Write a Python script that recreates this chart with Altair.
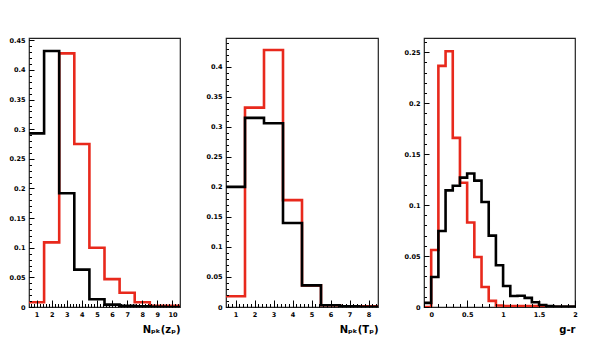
import altair as alt
import pandas as pd

FONT = "DejaVu Sans"
RED = "#e8291c"
BLACK = "#000000"

# ---------------- data ----------------
# panel 1 : N_pk(z_p), bins of width 1
p1_lo = [0.5, 1.5, 2.5, 3.5, 4.5, 5.5, 6.5, 7.5, 8.5, 9.5]
p1_black = [0.293, 0.432, 0.192, 0.063, 0.013, 0.004, 0.002, 0.001, 0.0005, 0.0]
p1_red = [0.008, 0.109, 0.428, 0.275, 0.100, 0.047, 0.024, 0.008, 0.002, 0.002]

# panel 2 : N_pk(T_p), bins of width 1
p2_lo = [0.5, 1.5, 2.5, 3.5, 4.5, 5.5, 6.5, 7.5]
p2_black = [0.200, 0.315, 0.306, 0.140, 0.036, 0.003, 0.001, 0.0005]
p2_red = [0.018, 0.332, 0.428, 0.178, 0.036, 0.003, 0.001, 0.001]

# panel 3 : g-r, bins of width 0.1
p3_lo = [-0.1, 0.0, 0.1, 0.2, 0.3, 0.4, 0.5, 0.6, 0.7, 0.8, 0.9,
         1.0, 1.1, 1.2, 1.3, 1.4, 1.5, 1.6, 1.7, 1.8, 1.9]
p3_black = [0.004, 0.0295, 0.0746, 0.1145, 0.119, 0.127, 0.131, 0.124, 0.103, 0.070, 0.041,
            0.0206, 0.0108, 0.011, 0.009, 0.0046, 0.002, 0.001, 0.0005, 0.0005, 0.0005]
p3_red = [0.0, 0.056, 0.2366, 0.251, 0.166, 0.122, 0.083, 0.049, 0.0196, 0.006, 0.0015,
          0.001, 0.001, 0.001, 0.001, 0.001, 0.0005, 0.0, 0.0, 0.0, 0.0]

titles = ["Nₚₖ(zₚ)", "Nₚₖ(Tₚ)", "g-r"]


def step_df(lows, width, vals):
    xs = list(lows) + [lows[-1] + width]
    ys = list(vals) + [vals[-1]]
    return pd.DataFrame({"x": xs, "y": ys})


def frange(a, b, step):
    n = int(round((b - a) / step))
    return [round(a + i * step, 6) for i in range(n + 1)]


H = 269


def panel(lows, width, black, red, xdom, ydom, xlabels, xminor, ylabels, yminor, title, W):
    xs = alt.Scale(domain=xdom, nice=False, zero=False)
    ys = alt.Scale(domain=ydom, nice=False)
    lab_common = dict(labelFont=FONT, labelFontSize=6.5, labelFontWeight="bold",
                      labelColor="black", ticks=False, tickSize=0, domain=False,
                      grid=False, labelOverlap=False, labelFlush=False, format="~r")
    ax_x = alt.Axis(orient="bottom", values=xlabels, labelPadding=4, title=title,
                    titleX=W, titleY=25, titleAlign="right", titleAnchor="end",
                    titleBaseline="alphabetic", titleFont=FONT, titleFontSize=10,
                    titleFontWeight="bold", titleColor="black", **lab_common)
    ax_y = alt.Axis(orient="left", values=ylabels, labelPadding=4, title=None, **lab_common)

    def tick_axis(orient, vals, size):
        return alt.Axis(orient=orient, values=vals, labels=False, domain=False, grid=False,
                        ticks=True, tickSize=size, offset=-size, tickColor="black",
                        tickWidth=1, title=None, zindex=1)

    dr = step_df(lows, width, red)
    db = step_df(lows, width, black)
    red_l = alt.Chart(dr).mark_line(interpolate="step-after", color=RED, strokeWidth=2.6,
                                    clip=True).encode(
        x=alt.X("x:Q", scale=xs, axis=ax_x), y=alt.Y("y:Q", scale=ys, axis=ax_y))
    blk_l = alt.Chart(db).mark_line(interpolate="step-after", color=BLACK, strokeWidth=2.6,
                                    clip=True).encode(
        x=alt.X("x:Q", scale=xs, axis=None), y=alt.Y("y:Q", scale=ys, axis=None))
    tmaj = alt.Chart(db).mark_line(opacity=0).encode(
        x=alt.X("x:Q", scale=xs, axis=tick_axis("bottom", xlabels, 7)),
        y=alt.Y("y:Q", scale=ys, axis=tick_axis("left", ylabels, 5)))
    tmin = alt.Chart(db).mark_line(opacity=0).encode(
        x=alt.X("x:Q", scale=xs, axis=tick_axis("bottom", xminor, 3.5)),
        y=alt.Y("y:Q", scale=ys, axis=tick_axis("left", yminor, 2.5)))
    return alt.layer(red_l, blk_l, tmaj, tmin).resolve_axis(
        x="independent", y="independent").properties(width=W, height=H)


c1 = panel(p1_lo, 1, p1_black, p1_red, [0.5, 10.5], [0, 0.454],
           [1, 2, 3, 4, 5, 6, 7, 8, 9, 10], frange(0.6, 10.4, 0.2),
           [0, 0.05, 0.1, 0.15, 0.2, 0.25, 0.3, 0.35, 0.4, 0.45], frange(0.0, 0.45, 0.01),
           titles[0], 151)
c2 = panel(p2_lo, 1, p2_black, p2_red, [0.5, 8.5], [0, 0.448],
           [1, 2, 3, 4, 5, 6, 7, 8], frange(0.6, 8.4, 0.2),
           [0, 0.05, 0.1, 0.15, 0.2, 0.25, 0.3, 0.35, 0.4], frange(0.0, 0.44, 0.01),
           titles[1], 152)
c3 = panel(p3_lo, 0.1, p3_black, p3_red, [-0.1, 2.0], [0, 0.264],
           [0, 0.5, 1, 1.5, 2], frange(-0.1, 2.0, 0.1),
           [0, 0.05, 0.1, 0.15, 0.2, 0.25], frange(0.0, 0.26, 0.01),
           titles[2], 151)

chart = alt.hconcat(c1, c2, c3, spacing=46, bounds="flush").properties(
    padding={"left": 0, "top": 28, "right": 10, "bottom": 4},
    background="white",
).configure_view(stroke="#222222", strokeWidth=1.2)

chart.save("out.html", embed_options={"renderer": "svg", "actions": False})
